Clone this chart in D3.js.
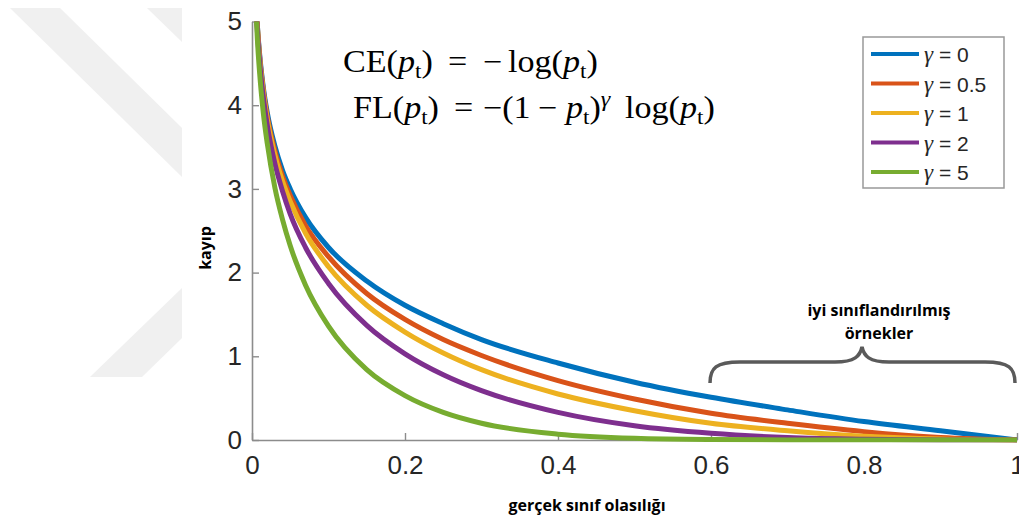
<!DOCTYPE html>
<html>
<head>
<meta charset="utf-8">
<script src="https://cdn.jsdelivr.net/npm/d3@7"></script>
<style>
  body { margin: 0; background: #fff; }
  svg { display: block; }
</style>
</head>
<body>
<script>
// true class probability samples (x)
var probs = [0.005, 0.007, 0.01, 0.015, 0.02, 0.03, 0.04, 0.05, 0.07, 0.1, 0.15, 0.2, 0.25, 0.3, 0.4, 0.5, 0.6, 0.7, 0.8, 0.9, 1.0];

// loss values, one array per gamma
var lossG0   = [5.30, 4.96, 4.61, 4.20, 3.91, 3.51, 3.22, 3.00, 2.66, 2.30, 1.90, 1.61, 1.39, 1.20, 0.92, 0.69, 0.51, 0.36, 0.22, 0.11, 0];
var lossG05  = [5.29, 4.95, 4.58, 4.17, 3.87, 3.45, 3.15, 2.92, 2.56, 2.19, 1.75, 1.44, 1.20, 1.01, 0.71, 0.49, 0.32, 0.20, 0.10, 0.03, 0];
var lossG1   = [5.27, 4.93, 4.56, 4.14, 3.83, 3.40, 3.09, 2.85, 2.47, 2.07, 1.61, 1.29, 1.04, 0.84, 0.55, 0.35, 0.20, 0.11, 0.045, 0.011, 0];
var lossG2   = [5.25, 4.89, 4.51, 4.08, 3.76, 3.30, 2.97, 2.70, 2.30, 1.87, 1.37, 1.03, 0.78, 0.59, 0.33, 0.17, 0.08, 0.03, 0.009, 0.001, 0];
var lossG5   = [5.17, 4.79, 4.38, 3.89, 3.54, 3.01, 2.63, 2.32, 1.85, 1.36, 0.84, 0.53, 0.33, 0.20, 0.07, 0.02, 0.005, 0.001, 0, 0, 0];

var gammaLabels = ['0', '0.5', '1', '2', '5'];
var seriesColors = ['#0072BD', '#D95319', '#EDB120', '#7E2F8E', '#77AC30'];
var seriesValues = [lossG0, lossG05, lossG1, lossG2, lossG5];

var xTicks = [0, 0.2, 0.4, 0.6, 0.8, 1];
var yTicks = [0, 1, 2, 3, 4, 5];

var W = 1019, H = 520;
var svg = d3.select('body').append('svg').attr('width', W).attr('height', H);

// faint watermark in the background
var wm = svg.append('g').attr('fill', '#f0f0f0');
wm.append('polygon').attr('points', '10,8 60,8 182,128 182,177');
wm.append('polygon').attr('points', '147,8 182,8 182,42');
wm.append('polygon').attr('points', '90,377 142,377 182,338 182,288');

var x = d3.scaleLinear().domain([0, 1]).range([252, 1017]);
var y = d3.scaleLinear().domain([0, 5]).range([440, 21.5]);

svg.append('defs').append('clipPath').attr('id', 'plot')
  .append('rect').attr('x', 252).attr('y', 21.5).attr('width', 767).attr('height', 421);

var line = d3.line()
  .x(function(d) { return x(d[0]); })
  .y(function(d) { return y(d[1]); })
  .curve(d3.curveMonotoneX);

// axes
var yAxis = svg.append('g').attr('transform', 'translate(252,0)')
  .call(d3.axisLeft(y).tickValues(yTicks).tickFormat(d3.format('d')).tickSizeInner(-7).tickSizeOuter(0).tickPadding(10));
var xAxis = svg.append('g').attr('transform', 'translate(0,440)')
  .call(d3.axisBottom(x).tickValues(xTicks).tickFormat(function(d) { return d === 0 || d === 1 ? d3.format('d')(d) : d3.format('.1f')(d); }).tickSizeInner(-7).tickSizeOuter(0).tickPadding(16));

[xAxis, yAxis].forEach(function(a) {
  a.selectAll('path.domain').attr('stroke', '#8c8c8c').attr('stroke-width', 1.6);
  a.selectAll('.tick line').attr('stroke', '#8c8c8c').attr('stroke-width', 1.4);
  a.selectAll('.tick text').attr('fill', '#262626').style('font-family', '"Liberation Sans", Arial, sans-serif').style('font-size', '26px');
});

// curves
svg.append('g').attr('clip-path', 'url(#plot)').selectAll('path')
  .data(seriesValues).enter().append('path')
  .attr('d', function(vals) { return line(probs.map(function(p, i) { return [p, vals[i]]; })); })
  .attr('fill', 'none')
  .attr('stroke', function(d, i) { return seriesColors[i]; })
  .attr('stroke-width', 5)
  .attr('stroke-linejoin', 'round');

// axis titles
svg.append('text').attr('x', 587).attr('y', 511).attr('text-anchor', 'middle')
  .style('font-family', '"Open Sans", sans-serif').style('font-weight', 'bold').style('font-size', '16px')
  .text('gerçek sınıf olasılığı');
svg.append('text').attr('transform', 'translate(211,248) rotate(-90)').attr('text-anchor', 'middle')
  .style('font-family', '"Open Sans", sans-serif').style('font-weight', 'bold').style('font-size', '16px')
  .text('kayıp');

// formulas, set piece by piece to get the wide math spacing
var fFont = '"Liberation Serif", "DejaVu Serif", serif';
function piece(xPos, yPos, parts) {
  var t = svg.append('text').attr('transform', 'translate(' + xPos + ',' + yPos + ') scale(1.1,1)')
    .style('font-family', fFont).style('font-size', '31px').attr('fill', '#000');
  var shift = 0;
  parts.forEach(function(p) {
    var s = t.append('tspan').text(p.t);
    var want = p.sub ? 6 : (p.sup ? -12 : 0);
    s.attr('dy', want - shift);
    shift = want;
    if (p.i) s.style('font-style', 'italic');
    if (p.sub) s.style('font-size', '21px');
    if (p.sup) s.style('font-size', '22px').style('font-style', 'italic');
  });
}
var pt = [{t: 'p', i: 1}, {t: 't', sub: 1}, {t: ')'}];
piece(343, 72, [{t: 'CE('}].concat(pt));
piece(448, 72, [{t: '='}]);
piece(483, 72, [{t: '\u2212'}]);
piece(508, 72, [{t: 'log('}].concat(pt));

piece(353, 118, [{t: 'FL('}].concat(pt));
piece(454, 118, [{t: '='}]);
piece(483, 118, [{t: '\u2212(1'}]);
piece(538, 118, [{t: '\u2212'}]);
piece(566, 118, pt.concat([{t: '\u03b3', sup: 1}]));
piece(625, 118, [{t: 'log('}].concat(pt));

// legend
var lg = svg.append('g');
lg.append('rect').attr('x', 863).attr('y', 37).attr('width', 141).attr('height', 151)
  .attr('fill', '#fff').attr('stroke', '#999').attr('stroke-width', 1.5);
var rows = lg.selectAll('g.row').data(gammaLabels).enter().append('g').attr('class', 'row')
  .attr('transform', function(d, i) { return 'translate(0,' + (54 + i * 29.5) + ')'; });
rows.append('line').attr('x1', 871).attr('x2', 919).attr('y1', 0).attr('y2', 0)
  .attr('stroke', function(d, i) { return seriesColors[i]; }).attr('stroke-width', 4);
var lt = rows.append('text').attr('x', 924).attr('y', 8)
  .style('font-family', '"Liberation Sans", Arial, sans-serif').style('font-size', '21px').attr('fill', '#262626');
lt.append('tspan').text('\u03b3').style('font-family', fFont).style('font-style', 'italic').style('font-size', '23px');
lt.append('tspan').text(function(d) { return ' = ' + d; });

// brace annotation
svg.append('path')
  .attr('d', 'M710,383 C710,368 716,362 740,362 L835,362 C855,362 860,356 862,347 C864,356 869,362 889,362 L985,362 C1009,362 1015,368 1015,383')
  .attr('fill', 'none').attr('stroke', '#5a5a5a').attr('stroke-width', 3.5);
svg.append('text').attr('x', 879).attr('y', 316).attr('text-anchor', 'middle')
  .style('font-family', '"Open Sans", sans-serif').style('font-weight', 'bold').style('font-size', '16px')
  .text('iyi sınıflandırılmış');
svg.append('text').attr('x', 879).attr('y', 339).attr('text-anchor', 'middle')
  .style('font-family', '"Open Sans", sans-serif').style('font-weight', 'bold').style('font-size', '16px')
  .text('örnekler');
</script>
</body>
</html>
